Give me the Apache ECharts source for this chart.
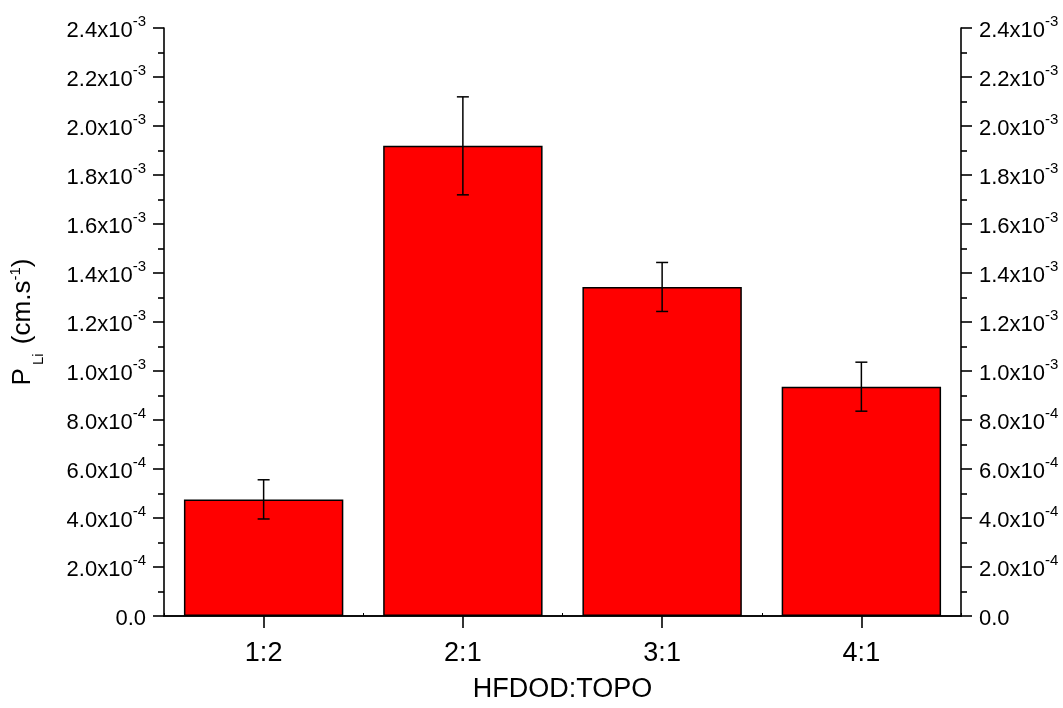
<!DOCTYPE html>
<html>
<head>
<meta charset="utf-8">
<script src="https://cdn.jsdelivr.net/npm/echarts@6/dist/echarts.min.js"></script>
<style>
html,body{margin:0;padding:0;background:#fff;}
#chart{width:1063px;height:708px;}
</style>
</head>
<body>
<div id="chart"></div>
<script>
// ---- data ----
const categories = ['1:2', '2:1', '3:1', '4:1'];
const values = [4.76e-4, 1.919e-3, 1.343e-3, 9.36e-4];
const errors = [0.8e-4, 2.0e-4, 1.0e-4, 1.0e-4];
// tick labels: [mantissa, exponent]
const yTickMantissa = ['0.0', '2.0', '4.0', '6.0', '8.0', '1.0', '1.2', '1.4', '1.6', '1.8', '2.0', '2.2', '2.4'];
const yTickExponent = ['', '-4', '-4', '-4', '-4', '-3', '-3', '-3', '-3', '-3', '-3', '-3', '-3'];
const yMin = 0, yMax = 2.4e-3, yInterval = 2e-4;

const FONT = '"Liberation Sans", Arial, sans-serif';

function yLabel(v) {
  const i = Math.round(v / yInterval);
  if (i < 0 || i >= yTickMantissa.length) return '';
  if (!yTickExponent[i]) return '{b|' + yTickMantissa[i] + '}';
  return '{b|' + yTickMantissa[i] + 'x10}{s|' + yTickExponent[i] + '}';
}
const labelRich = {
  b: {fontSize: 22, fontFamily: FONT, color: '#000', lineHeight: 27, verticalAlign: 'bottom'},
  s: {fontSize: 15, fontFamily: FONT, color: '#000', lineHeight: 15, verticalAlign: 'top'}
};

const axisLineStyle = {color: '#000', width: 1.6};

const chart = echarts.init(document.getElementById('chart'), null, {renderer: 'canvas'});

const yCommon = {
  type: 'value', min: yMin, max: yMax, interval: yInterval,
  axisLine: {show: true, lineStyle: axisLineStyle},
  axisTick: {show: true, inside: false, length: 11, lineStyle: axisLineStyle},
  minorTick: {show: true, splitNumber: 2, length: 6, lineStyle: axisLineStyle},
  splitLine: {show: false},
  axisLabel: {formatter: yLabel, rich: labelRich, margin: 18}
};

chart.setOption({
  animation: false,
  backgroundColor: '#fff',
  grid: {left: 163, right: 102, top: 28, bottom: 88, containLabel: false},
  xAxis: [
    {
      type: 'category', data: categories, position: 'bottom',
      axisLine: {show: true, lineStyle: axisLineStyle},
      axisTick: {show: true, alignWithLabel: true, length: 12, lineStyle: axisLineStyle},
      axisLabel: {fontSize: 27, fontFamily: FONT, color: '#000', margin: 24},
      name: 'HFDOD:TOPO', nameLocation: 'middle', nameGap: 60,
      nameTextStyle: {fontSize: 27, fontFamily: FONT, color: '#000'}
    },
    {
      type: 'category', data: categories, position: 'top',
      axisLine: {show: true, lineStyle: axisLineStyle},
      axisTick: {show: false}, axisLabel: {show: false}
    },
    {
      type: 'category', data: categories, position: 'bottom',
      axisLine: {show: false},
      axisTick: {show: true, inside: true, length: 3, lineStyle: {color: '#000', width: 1}},
      axisLabel: {show: false}
    }
  ],
  yAxis: [
    Object.assign({}, yCommon, {
      position: 'left',
      name: '{p|P}{sub|Li}{p| (cm.s}{sup|-1}{p|)}',
      nameLocation: 'middle', nameGap: 126, nameRotate: 90,
      nameTextStyle: {
        rich: {
          p: {fontSize: 26, fontFamily: FONT, color: '#000', lineHeight: 30, verticalAlign: 'middle'},
          sub: {fontSize: 15, fontFamily: FONT, color: '#000', lineHeight: 30, verticalAlign: 'bottom', padding: [0, 2, -8, 3]},
          sup: {fontSize: 15, fontFamily: FONT, color: '#000', lineHeight: 15, verticalAlign: 'top'}
        }
      }
    }),
    Object.assign({}, yCommon, {position: 'right'})
  ],
  series: [
    {
      type: 'bar', data: values, barWidth: '80%',
      xAxisIndex: 0, yAxisIndex: 0,
      itemStyle: {color: '#ff0000', borderColor: '#000', borderWidth: 1.5},
      z: 2
    },
    {
      type: 'custom', xAxisIndex: 0, yAxisIndex: 0, z: 5,
      data: values.map((v, i) => [i, v - errors[i], v + errors[i]]),
      renderItem: function (params, api) {
        const lo = api.coord([api.value(0), api.value(1)]);
        const hi = api.coord([api.value(0), api.value(2)]);
        const hw = 6;
        const st = {stroke: '#000', lineWidth: 1.5};
        return {
          type: 'group',
          children: [
            {type: 'line', shape: {x1: hi[0], y1: hi[1], x2: lo[0], y2: lo[1]}, style: st},
            {type: 'line', shape: {x1: hi[0] - hw, y1: hi[1], x2: hi[0] + hw, y2: hi[1]}, style: st},
            {type: 'line', shape: {x1: lo[0] - hw, y1: lo[1], x2: lo[0] + hw, y2: lo[1]}, style: st}
          ]
        };
      }
    }
  ]
});
</script>
</body>
</html>
